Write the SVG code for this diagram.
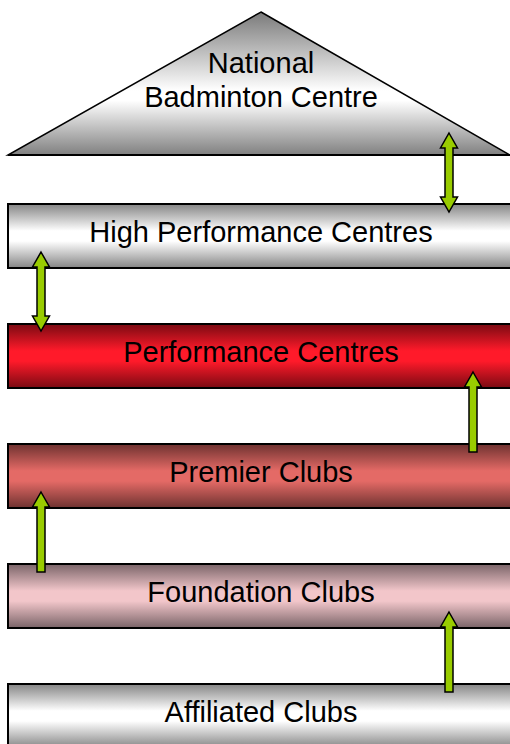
<svg xmlns="http://www.w3.org/2000/svg" width="510" height="744" viewBox="0 0 510 744">
<style>
.lbl{font-family:"Liberation Sans",Arial,sans-serif;font-size:29px;fill:#000;text-anchor:middle}
.box{stroke:#000;stroke-width:2}
.arr{fill:#99cc00;stroke:#000;stroke-width:1.5;stroke-linejoin:miter}
</style>
<defs>
<linearGradient id="gGray" x1="0" y1="0" x2="0" y2="1">
<stop offset="0" stop-color="#858585"/><stop offset="0.42" stop-color="#ffffff"/><stop offset="0.58" stop-color="#ffffff"/><stop offset="1" stop-color="#858585"/>
</linearGradient>
<linearGradient id="gTri" x1="0" y1="0" x2="0" y2="1">
<stop offset="0" stop-color="#7a7a7a"/><stop offset="0.55" stop-color="#ffffff"/><stop offset="0.62" stop-color="#ffffff"/><stop offset="1" stop-color="#808080"/>
</linearGradient>
<linearGradient id="gRed" x1="0" y1="0" x2="0" y2="1">
<stop offset="0" stop-color="#7a0a12"/><stop offset="0.42" stop-color="#ff1a2a"/><stop offset="0.58" stop-color="#ff1a2a"/><stop offset="1" stop-color="#7a0a12"/>
</linearGradient>
<linearGradient id="gPrem" x1="0" y1="0" x2="0" y2="1">
<stop offset="0" stop-color="#6e3230"/><stop offset="0.42" stop-color="#e46a66"/><stop offset="0.58" stop-color="#e46a66"/><stop offset="1" stop-color="#6e3230"/>
</linearGradient>
<linearGradient id="gFound" x1="0" y1="0" x2="0" y2="1">
<stop offset="0" stop-color="#7a6468"/><stop offset="0.42" stop-color="#f2c6ca"/><stop offset="0.58" stop-color="#f2c6ca"/><stop offset="1" stop-color="#7a6468"/>
</linearGradient>
</defs>
<g id="national">
<polygon points="261,12 510,155 8,155" fill="url(#gTri)" stroke="#000" stroke-width="1.5"/>
<line x1="8" y1="155" x2="510" y2="155" stroke="#000" stroke-width="2"/>
<text class="lbl" x="261" y="73">National</text>
<text class="lbl" x="261" y="107">Badminton Centre</text>
</g>
<g id="hpc">
<rect class="box" x="8" y="204" width="510" height="64" fill="url(#gGray)"/>
<text class="lbl" x="261" y="242">High Performance Centres</text>
</g>
<g id="pc">
<rect class="box" x="8" y="324" width="510" height="64" fill="url(#gRed)"/>
<text class="lbl" x="261" y="362">Performance Centres</text>
</g>
<g id="premier">
<rect class="box" x="8" y="444" width="510" height="64" fill="url(#gPrem)"/>
<text class="lbl" x="261" y="482">Premier Clubs</text>
</g>
<g id="foundation">
<rect class="box" x="8" y="564" width="510" height="64" fill="url(#gFound)"/>
<text class="lbl" x="261" y="602">Foundation Clubs</text>
</g>
<g id="affiliated">
<rect class="box" x="8" y="684" width="510" height="64" fill="url(#gGray)"/>
<text class="lbl" x="261" y="722">Affiliated Clubs</text>
</g>
<g id="connectors">
<polygon class="arr" points="449,133 457.5,148 453,148 453,197 457.5,197 449,212 440.5,197 445,197 445,148 440.5,148"/>
<polygon class="arr" points="41,252 49.5,267 45,267 45,316 49.5,316 41,331 32.5,316 37,316 37,267 32.5,267"/>
<polygon class="arr" points="473,372 481.5,387 477,387 477,452 469,452 469,387 464.5,387"/>
<polygon class="arr" points="41,492 49.5,507 45,507 45,572 37,572 37,507 32.5,507"/>
<polygon class="arr" points="449,612 457.5,627 453,627 453,692 445,692 445,627 440.5,627"/>
</g>
</svg>
